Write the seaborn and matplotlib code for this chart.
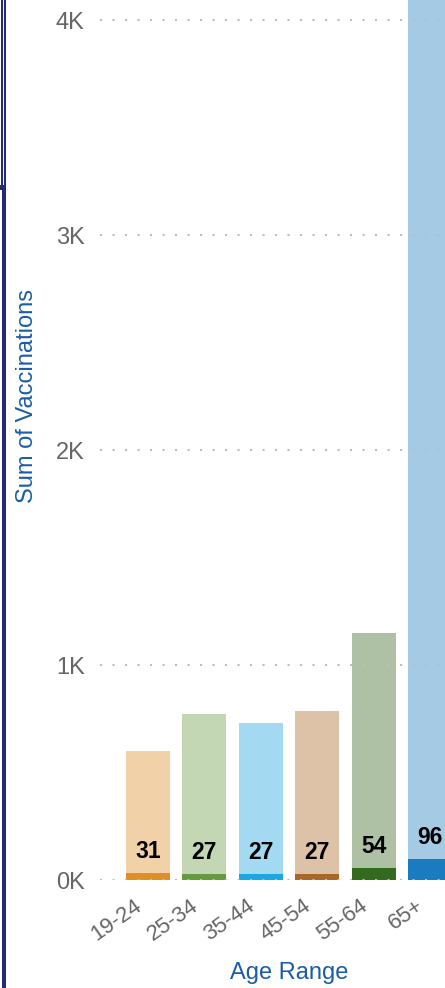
import matplotlib
matplotlib.use('Agg')
import matplotlib.pyplot as plt
import matplotlib.transforms as mtransforms
import seaborn as sns

# values
ages = ['19-24', '25-34', '35-44', '45-54', '55-64', '65+']
totals = [600, 772, 730, 786, 1149, 4400]
doses = [31, 27, 27, 27, 54, 96]
light_colors = ['#F0D1A8', '#C3D7B4', '#A3DAF1', '#DDC2A8', '#AFC1A5', '#A4CAE4']
dark_colors = ['#DE8F27', '#659A41', '#1CA7E0', '#A86726', '#336A20', '#1A7BC1']
ytick_vals = [0, 1000, 2000, 3000, 4000]
ytick_labels = ['0K', '1K', '2K', '3K', '4K']

sns.set_style('white')
plt.rcParams['font.family'] = ['Liberation Sans', 'DejaVu Sans']

W, H = 445, 988
fig = plt.figure(figsize=(W / 100, H / 100), dpi=100)

# axes runs past the top and right edge of the picture
ax = fig.add_axes([100 / W, (H - 880) / H, 378 / W, 970 / H])

sns.barplot(x=ages, y=totals, hue=ages, palette=light_colors, legend=False,
            width=0.78, saturation=1, linewidth=0, edgecolor='none', ax=ax)
sns.barplot(x=ages, y=doses, hue=ages, palette=dark_colors, legend=False,
            width=0.78, saturation=1, linewidth=0, edgecolor='none', ax=ax)

ax.set_xlim(-0.85, 5.85)
ax.set_ylim(0, 4512)

for i, v in enumerate(doses):
    ax.annotate(str(v), (i, v), xytext=(0, 11), textcoords='offset points',
                ha='center', va='baseline', fontsize=16.5, fontweight='bold',
                color='black')

ax.set_yticks(ytick_vals)
ax.set_yticklabels(ytick_labels, fontsize=17, color='#666666')
ax.tick_params(axis='y', length=0, pad=11)
ax.tick_params(axis='x', length=0, pad=11)
ax.set_xticks(range(len(ages)))
ax.set_xticklabels(ages, fontsize=16, color='#666666', rotation=35,
                   ha='right', va='top', rotation_mode='anchor')
shift = mtransforms.ScaledTranslation(-14 / 100, 0, fig.dpi_scale_trans)
for lbl in ax.get_xticklabels():
    lbl.set_transform(lbl.get_transform() + shift)

ax.yaxis.grid(True, color='#bdbdbd', linestyle=(0, (1, 5)), linewidth=1.5)
ax.xaxis.grid(False)
ax.set_axisbelow(False)
sns.despine(ax=ax, left=True, bottom=True)

ax.set_ylabel('Sum of Vaccinations', fontsize=17, color='#1A5DA6')
ax.set_xlabel('Age Range', fontsize=17, color='#1A5DA6')
ax.yaxis.set_label_coords(-0.165, 0.499)
ax.xaxis.set_label_coords(0.5, -0.085)

# navy frame at the left edge
navy = '#25297A'
def px_rect(x0, y0, x1, y1):
    fig.add_artist(plt.Rectangle((x0 / W, 1 - y1 / H), (x1 - x0) / W, (y1 - y0) / H,
                                 transform=fig.transFigure, color=navy, lw=0))

px_rect(1, 0, 2.5, 190)
px_rect(4, 0, 6, 190)
px_rect(0, 185, 6, 190)
px_rect(2, 187, 6, 988)

fig.savefig('out.png', dpi=100)
